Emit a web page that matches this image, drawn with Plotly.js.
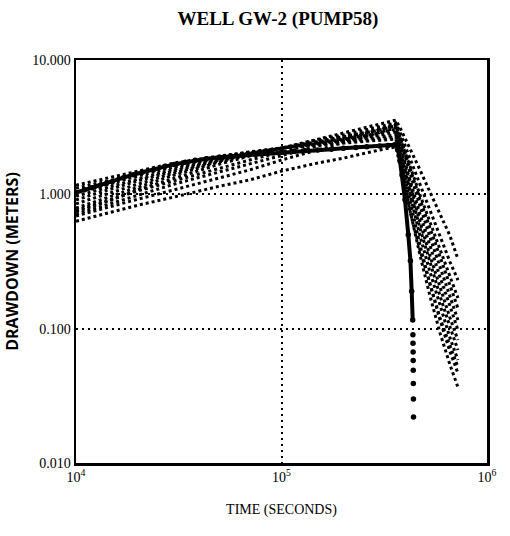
<!DOCTYPE html>
<html>
<head>
<meta charset="utf-8">
<script src="https://cdn.plot.ly/plotly-3.0.1.min.js"></script>
<style>
  html, body { margin: 0; padding: 0; background: #fff; }
  #chart { width: 510px; height: 536px; }
</style>
</head>
<body>
<div id="chart"></div>
<script>
// Simulated drawdown runs: pumping phase then recovery, all sampled at the same times (s)
const simTime = [1e4, 1.5e4, 2e4, 3e4, 5e4, 7e4, 1e5, 1.5e5, 2e5, 3e5, 3.6e5,
                 3.78e5, 4.22e5, 4.72e5, 5.28e5, 5.91e5, 6.61e5, 7.22e5];

const runA = [0.74, 0.91, 1.08, 1.32, 1.68, 1.93, 2.21, 2.58, 2.86, 3.34, 3.57,
              3.12, 2.21, 1.52, 1.04, 0.71, 0.489, 0.330];
const runB = [0.79, 0.97, 1.13, 1.39, 1.74, 1.96, 2.21, 2.54, 2.76, 3.17, 3.40,
              2.86, 1.86, 1.17, 0.76, 0.50, 0.313, 0.230];
const runC = [0.85, 1.04, 1.19, 1.44, 1.77, 2.00, 2.21, 2.49, 2.67, 3.01, 3.23,
              2.63, 1.62, 0.99, 0.62, 0.385, 0.242, 0.169];
const runD = [0.91, 1.10, 1.26, 1.49, 1.80, 2.00, 2.21, 2.45, 2.58, 2.86, 3.06,
              2.33, 1.28, 0.71, 0.412, 0.242, 0.147, 0.0976];
const runE = [0.97, 1.15, 1.30, 1.54, 1.83, 2.03, 2.21, 2.41, 2.54, 2.76, 2.91,
              2.14, 1.08, 0.561, 0.308, 0.175, 0.1028, 0.0693];
const runF = [1.04, 1.21, 1.37, 1.60, 1.86, 2.03, 2.21, 2.37, 2.49, 2.67, 2.76,
              2.00, 0.97, 0.489, 0.264, 0.147, 0.0851, 0.0584];
const runG = [1.11, 1.28, 1.44, 1.65, 1.90, 2.07, 2.21, 2.37, 2.45, 2.58, 2.67,
              1.90, 0.877, 0.419, 0.215, 0.116, 0.0670, 0.0467];
const runH = [1.17, 1.35, 1.49, 1.71, 1.93, 2.07, 2.21, 2.33, 2.41, 2.54, 2.58,
              1.80, 0.76, 0.353, 0.175, 0.0927, 0.0536, 0.0367];
const runI = [0.69, 0.82, 0.92, 1.08, 1.32, 1.52, 1.80, 2.14, 2.41, 2.86, 3.12,
              2.29, 1.17, 0.62, 0.347, 0.2005, 0.120, 0.0823];
const runJ = [0.63, 0.74, 0.83, 0.955, 1.15, 1.28, 1.49, 1.71, 1.86, 2.14, 2.25,
              1.65, 0.74, 0.385, 0.211, 0.120, 0.0742, 0.0518];
const runK = [0.71, 0.86, 0.99, 1.19, 1.47, 1.68, 1.96, 2.29, 2.54, 3.01, 3.28,
              2.54, 1.42, 0.82, 0.481, 0.288, 0.175, 0.116];
const runL = [0.76, 0.92, 1.06, 1.26, 1.57, 1.80, 2.07, 2.41, 2.63, 3.06, 3.34,
              2.67, 1.57, 0.92, 0.561, 0.341, 0.211, 0.142];

// Measured drawdown in GW-2: continuous record through pumping and early recovery
const obsTime = [1.0e4, 1.1e4, 1.2e4, 1.3e4, 1.4e4, 1.5e4, 1.7e4, 1.9e4, 2.1e4, 2.4e4,
                 2.7e4, 3.0e4, 3.4e4, 3.8e4, 4.3e4, 5.0e4, 5.7e4, 6.5e4, 7.5e4, 8.5e4,
                 1.0e5, 1.15e5, 1.3e5, 1.5e5, 1.75e5, 2.0e5, 2.3e5, 2.6e5, 3.0e5, 3.3e5,
                 3.55e5, 3.62e5, 3.69e5, 3.77e5, 3.86e5, 3.99e5, 4.14e5, 4.24e5, 4.30e5, 4.35e5];
const obsDrawdown = [1.03, 1.08, 1.12, 1.16, 1.20, 1.24, 1.33, 1.40, 1.46, 1.54,
                     1.61, 1.67, 1.73, 1.79, 1.84, 1.89, 1.92, 1.95, 1.99, 2.02,
                     2.06, 2.09, 2.12, 2.14, 2.17, 2.20, 2.23, 2.26, 2.29, 2.31,
                     2.34, 2.30, 2.14, 1.78, 1.39, 0.91, 0.50, 0.32, 0.19, 0.116];

// Late recovery readings
const tailTime = [4.36e5, 4.365e5, 4.37e5, 4.373e5, 4.376e5, 4.38e5, 4.385e5, 4.39e5];
const tailDrawdown = [0.090, 0.078, 0.067, 0.058, 0.049, 0.039, 0.030, 0.022];

// Axis ticks
const xTickVals = [1e4, 1e5, 1e6];
const xTickText = ['10<sup>4</sup>', '10<sup>5</sup>', '10<sup>6</sup>'];
const yTickVals = [0.01, 0.1, 1, 10];
const yTickText = ['0.010', '0.100', '1.000', '10.000'];

const runs = [runA, runB, runC, runD, runE, runF, runG, runH, runI, runJ, runK, runL];

const traces = runs.map(r => ({
  x: simTime, y: r, type: 'scatter', mode: 'lines',
  line: { color: '#000', width: 3, dash: '3px,3px' },
  hoverinfo: 'skip'
}));

traces.push({
  x: obsTime, y: obsDrawdown, type: 'scatter', mode: 'lines+markers',
  line: { color: '#000', width: 4 },
  marker: { color: '#000', size: 5.5 }
});
traces.push({
  x: tailTime, y: tailDrawdown, type: 'scatter', mode: 'markers',
  marker: { color: '#000', size: 5.5 }
});

const serif = 'Liberation Serif, Times New Roman, serif';

const layout = {
  width: 510, height: 536,
  margin: { l: 76, r: 23, t: 60, b: 73 },
  paper_bgcolor: '#fff', plot_bgcolor: '#fff',
  showlegend: false,
  title: {
    text: '<b>WELL GW-2 (PUMP58)</b>',
    font: { family: serif, size: 19, color: '#000' },
    x: 0.545, xanchor: 'center', xref: 'container',
    y: 0.966, yanchor: 'middle', yref: 'container'
  },
  xaxis: {
    type: 'log', range: [4, 6],
    tickvals: xTickVals, ticktext: xTickText, ticks: '',
    tickfont: { family: serif, size: 14, color: '#000' },
    showline: true, mirror: true, linecolor: '#000', linewidth: 2.5,
    showgrid: true, gridcolor: '#000', gridwidth: 2, griddash: '2px,4px',
    zeroline: false,
    title: { text: 'TIME (SECONDS)', font: { family: serif, size: 14, color: '#000' }, standoff: 20 }
  },
  yaxis: {
    type: 'log', range: [-2, 1],
    tickvals: yTickVals, ticktext: yTickText, ticks: '',
    tickfont: { family: serif, size: 14, color: '#000' },
    showline: true, mirror: true, linecolor: '#000', linewidth: 2.5,
    showgrid: true, gridcolor: '#000', gridwidth: 2, griddash: '2px,4px',
    zeroline: false,
    title: { text: '<b>DRAWDOWN (METERS)</b>', font: { family: 'Open Sans, sans-serif', size: 16, color: '#000' }, standoff: 10 }
  }
};

Plotly.newPlot('chart', traces, layout, { displayModeBar: false, staticPlot: true });
</script>
</body>
</html>
